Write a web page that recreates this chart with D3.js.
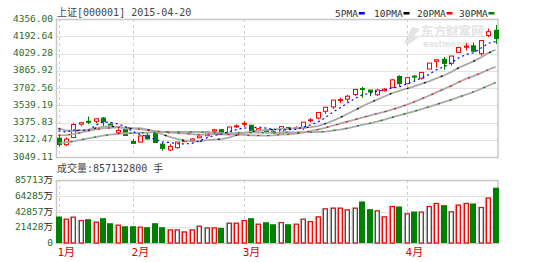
<!DOCTYPE html>
<html>
<head>
<meta charset="utf-8">
<script src="https://cdn.jsdelivr.net/npm/d3@7"></script>
<style>
  body { margin: 0; background: #fff; }
  svg { display: block; }
  text { font-family: "DejaVu Sans Mono", "Noto Sans CJK SC", monospace; }
</style>
</head>
<body>
<svg id="chart" width="550" height="262"></svg>
<script>
// trading days shown (2015)
const dates = ["01-19","01-20","01-21","01-22","01-23","01-26","01-27","01-28","01-29","01-30",
  "02-02","02-03","02-04","02-05","02-06","02-09","02-10","02-11","02-12","02-13","02-16","02-17","02-25","02-26","02-27",
  "03-02","03-03","03-04","03-05","03-06","03-09","03-10","03-11","03-12","03-13","03-16","03-17","03-18","03-19","03-20",
  "03-23","03-24","03-25","03-26","03-27","03-30","03-31",
  "04-01","04-02","04-03","04-07","04-08","04-09","04-10","04-13","04-14","04-15","04-16","04-17","04-20"];

const open  = [3182,3114,3189,3327,3357,3357,3391,3326,3240,3273, 3148,3142,3212,3242,3120,3060,3084,3146,3157,3186,
  3207,3255,3270,3226,3304,3332,3317,3264,3264,3248, 3225,3292,3287,3288,3365,3391,3461,3506,3579,3587,
  3635,3697,3681,3632,3673,3710,3822,3748,3826,3803, 3899,3980,4001,3959,4072,4126,4140,4059,4248,4301];
const high  = [3212,3190,3337,3352,3407,3390,3400,3344,3286,3288, 3175,3210,3238,3244,3140,3119,3142,3166,3180,3228,
  3247,3279,3273,3300,3324,3358,3319,3286,3275,3266, 3303,3297,3305,3350,3391,3450,3503,3578,3600,3632,
  3688,3715,3683,3694,3701,3795,3835,3817,3835,3864, 3961,4000,4025,4034,4128,4168,4174,4195,4318,4356];
const low   = [3095,3100,3183,3307,3328,3337,3292,3283,3230,3210, 3122,3135,3168,3134,3052,3049.11,3073,3141,3146,3182,
  3207,3246,3224,3212,3291,3300,3260,3250,3230,3234, 3223,3276,3275,3266,3345,3377,3435,3484,3546,3560,
  3621,3600,3617,3617,3665,3710,3724,3742,3775,3790, 3899,3912,3892,3935,4072,4092,4078,4038,4232,4160];
const close = [3116,3173,3324,3343,3352,3383,3353,3306,3262,3210, 3128,3205,3174,3137,3076,3095,3142,3158,3173,3204,
  3247,3269,3229,3298,3310,3336,3263,3280,3248,3241, 3302,3286,3291,3349,3373,3449,3503,3577,3582,3617,
  3688,3691,3661,3682,3691,3787,3748,3810,3825,3864, 3961,3995,3958,4034,4122,4136,4084,4195,4287,4217];

// volume, 万手
const volume = [41000,36900,40000,34800,36900,32200,38500,30700,27600,26000, 26000,24500,24500,30700,24500,20300,20300,17100,20300,26000,
  23400,23400,23400,30700,30700,34800,38500,29100,32200,29100, 31650,29100,29100,36900,33200,40500,53000,54000,54000,51400,
  54000,64400,52500,49900,40500,56600,56600,45200,48800,47800, 56600,61300,58700,48300,58700,61300,61300,55000,69600,85713.28];

const ma5  = [3257,3247,3265,3267,3262,3315,3351,3347,3331,3303, 3252,3222,3196,3171,3144,3137,3125,3122,3129,3154,
  3185,3210,3224,3249,3271,3288,3287,3297,3287,3274, 3267,3271,3274,3294,3320,3350,3393,3450,3497,3546,
  3593,3631,3648,3668,3683,3702,3714,3744,3772,3807, 3842,3891,3921,3962,4014,4049,4067,4114,4165,4184];
const ma10 = [3282,3264,3259,3264,3271,3286,3299,3306,3299,3282, 3283,3287,3272,3251,3223,3195,3174,3159,3150,3149,
  3161,3168,3173,3189,3213,3237,3249,3261,3268,3272, 3278,3279,3286,3291,3297,3308,3332,3362,3395,3433,
  3472,3512,3549,3582,3614,3648,3672,3696,3720,3745, 3772,3803,3832,3867,3911,3945,3979,4018,4064,4099];
const ma20 = [3211,3214,3224,3239,3258,3274,3283,3290,3295,3294, 3283,3275,3265,3258,3247,3240,3236,3233,3224,3216,
  3222,3227,3222,3220,3218,3216,3211,3210,3209,3211, 3219,3223,3229,3240,3255,3272,3290,3311,3332,3353,
  3375,3396,3417,3436,3456,3478,3502,3529,3558,3589, 3622,3657,3691,3725,3762,3797,3826,3857,3892,3922];
const ma30 = [3131,3139,3149,3165,3179,3194,3208,3220,3228,3233, 3235,3238,3240,3243,3247,3247,3247,3246,3247,3246,
  3242,3239,3235,3235,3236,3239,3240,3242,3239,3235, 3241,3244,3243,3244,3244,3246,3251,3261,3271,3285,
  3303,3320,3336,3354,3375,3398,3418,3440,3461,3483, 3507,3531,3556,3580,3607,3634,3661,3692,3726,3759];

const priceTicks = ["3049.11","3212.47","3375.83","3539.19","3702.56","3865.92","4029.28","4192.64","4356.00"];
const volTicks = ["0","21428","42857","64285","85713"];
const monthLabels = ["1月","2月","3月","4月"];
const monthStarts = ["01-19","02-02","03-02","04-01"];
const maNames = ["5PMA","10PMA","20PMA","30PMA"];
const maColors = ["#0000ff","#000000","#ff0000","#008000"];

///////////////////////////////////////////////////////////////

const svg = d3.select("#chart");
const left = 56.5, right = 498;
const pTop = 19, pBot = 157, vTop = 180, vBot = 243;
const up = "#ff0000", down = "#008000", grid = "#e2e2e2", frame = "#c8c8c8";

const x = d3.scalePoint().domain(dates).range([58.5, 495.5]);
const y = d3.scaleLinear().domain([3049.11, 4356]).range([151, 25]);
const yGrid = d3.scaleLinear().domain([0, priceTicks.length - 1]).range([pBot, pTop]);
const yv = d3.scaleLinear().domain([0, 85713.28]).range([vBot, 187.7]);
const yvGrid = d3.scaleLinear().domain([0, volTicks.length - 1]).range([vBot, vTop]);

// watermark
const wm = svg.append("g").attr("fill", "#e4e4e4");
wm.append("path").attr("d", "M404,43 L412,27 L420,29 L414,36 L419,37 L409,44 Z");
wm.append("text").attr("x", 421).attr("y", 36).attr("font-size", 12.5).attr("font-weight", "bold")
  .style("font-family", "'Noto Sans CJK SC'").text("东方财富网");
wm.append("text").attr("x", 423).attr("y", 47).attr("font-size", 8).attr("font-weight", "bold")
  .style("font-family", "'DejaVu Sans'").text("eastmoney");

// panels
function panel(top, bot, n, sc) {
  const g = svg.append("g");
  g.selectAll("line.h").data(d3.range(1, n - 1)).join("line")
    .attr("x1", left).attr("x2", right)
    .attr("y1", d => Math.round(sc(d)) + 0.5).attr("y2", d => Math.round(sc(d)) + 0.5)
    .attr("stroke", grid);
  g.selectAll("line.v").data(monthStarts).join("line")
    .attr("x1", d => Math.round(x(d)) + 0.5).attr("x2", d => Math.round(x(d)) + 0.5)
    .attr("y1", top).attr("y2", bot)
    .attr("stroke", "#cfcfcf").attr("stroke-dasharray", "3,3");
  g.append("rect").attr("x", left).attr("y", top + 0.5).attr("width", right - left).attr("height", bot - top)
    .attr("fill", "none").attr("stroke", frame).attr("stroke-width", 1.5);
}
panel(pTop, pBot, priceTicks.length, yGrid);
panel(vTop, vBot, volTicks.length, yvGrid);

// axis labels
svg.append("g").selectAll("text").data(priceTicks).join("text")
  .attr("x", 53).attr("y", (d, i) => yGrid(i) + 2.5)
  .attr("text-anchor", "end").attr("font-size", 9.5).attr("fill", "#2b6b2b").text(d => d);

const vl = svg.append("g").selectAll("text").data(volTicks).join("text")
  .attr("x", 53).attr("y", (d, i) => yvGrid(i) + 3)
  .attr("text-anchor", "end").attr("font-size", 9.5).attr("fill", "#2b6b2b");
vl.append("tspan").text(d => d);
vl.append("tspan").attr("fill", "#222").text((d, i) => i ? "万" : "");

svg.append("g").selectAll("text").data(monthLabels).join("text")
  .attr("x", (d, i) => x(monthStarts[i]) - 1).attr("y", 256)
  .attr("font-size", 11).attr("fill", "#e00000").text(d => d);

// headers
svg.append("text").attr("x", 57).attr("y", 16).attr("font-size", 10).attr("fill", "#444")
  .text("上证[000001] 2015-04-20");
svg.append("text").attr("x", 57).attr("y", 172).attr("font-size", 10).attr("fill", "#444")
  .text("成交量:857132800 手");

const lg = svg.append("g").attr("font-size", 9.5).attr("fill", "#333");
const lgX = [335, 374, 417, 459];
maNames.forEach((n, i) => {
  lg.append("text").attr("x", lgX[i]).attr("y", 17).text(n);
  lg.append("rect").attr("x", lgX[i] + n.length * 5.7 + 1).attr("y", 12).attr("width", 6).attr("height", 2.5)
    .attr("fill", maColors[i]);
});

// candles
const isUp = i => close[i] >= open[i];
const cw = 5;
const cg = svg.append("g");
cg.selectAll("line").data(dates).join("line")
  .attr("x1", d => Math.round(x(d)) + 0.5).attr("x2", d => Math.round(x(d)) + 0.5)
  .attr("y1", (d, i) => y(high[i])).attr("y2", (d, i) => y(low[i]))
  .attr("stroke", (d, i) => isUp(i) ? up : down);
cg.selectAll("rect").data(dates).join("rect")
  .attr("x", d => Math.round(x(d)) - 2 + 0.5)
  .attr("y", (d, i) => y(Math.max(open[i], close[i])))
  .attr("width", cw - 1)
  .attr("height", (d, i) => Math.max(1, Math.abs(y(open[i]) - y(close[i]))))
  .attr("fill", (d, i) => isUp(i) ? "#fff" : down)
  .attr("stroke", (d, i) => isUp(i) ? up : down);

// moving averages
const maLine = d3.line().x((d, i) => x(dates[i])).y(d => y(d));
[ma30, ma20, ma10].forEach(m => {
  svg.append("path").datum(m).attr("d", maLine).attr("fill", "none")
    .attr("stroke", "#aaa").attr("stroke-width", 1.8);
});
const dashes = ["2,3", "2,16", "2,8", "2,10"];
[ma5, ma10, ma20, ma30].forEach((m, i) => {
  svg.append("path").datum(m).attr("d", maLine).attr("fill", "none")
    .attr("stroke", maColors[i]).attr("stroke-width", 1.2).attr("stroke-dasharray", dashes[i]);
});

// volume bars
const vw = 5.5;
const vg = svg.append("g");
dates.forEach((d, i) => {
  const bx = Math.round(x(d)) - 2.5;
  const top = yv(volume[i]);
  if (isUp(i)) {
    vg.append("rect").attr("x", bx).attr("y", top).attr("width", vw - 1).attr("height", vBot - top)
      .attr("fill", "#fff").attr("stroke", "#aaa").attr("stroke-width", 1.5);
    vg.append("rect").attr("x", bx + 1).attr("y", top).attr("width", vw - 1.5).attr("height", vBot - top)
      .attr("fill", "none").attr("stroke", up).attr("stroke-width", 1);
  } else {
    vg.append("rect").attr("x", bx - 0.5).attr("y", top).attr("width", vw + 0.5).attr("height", vBot - top)
      .attr("fill", down);
  }
});
</script>
</body>
</html>
